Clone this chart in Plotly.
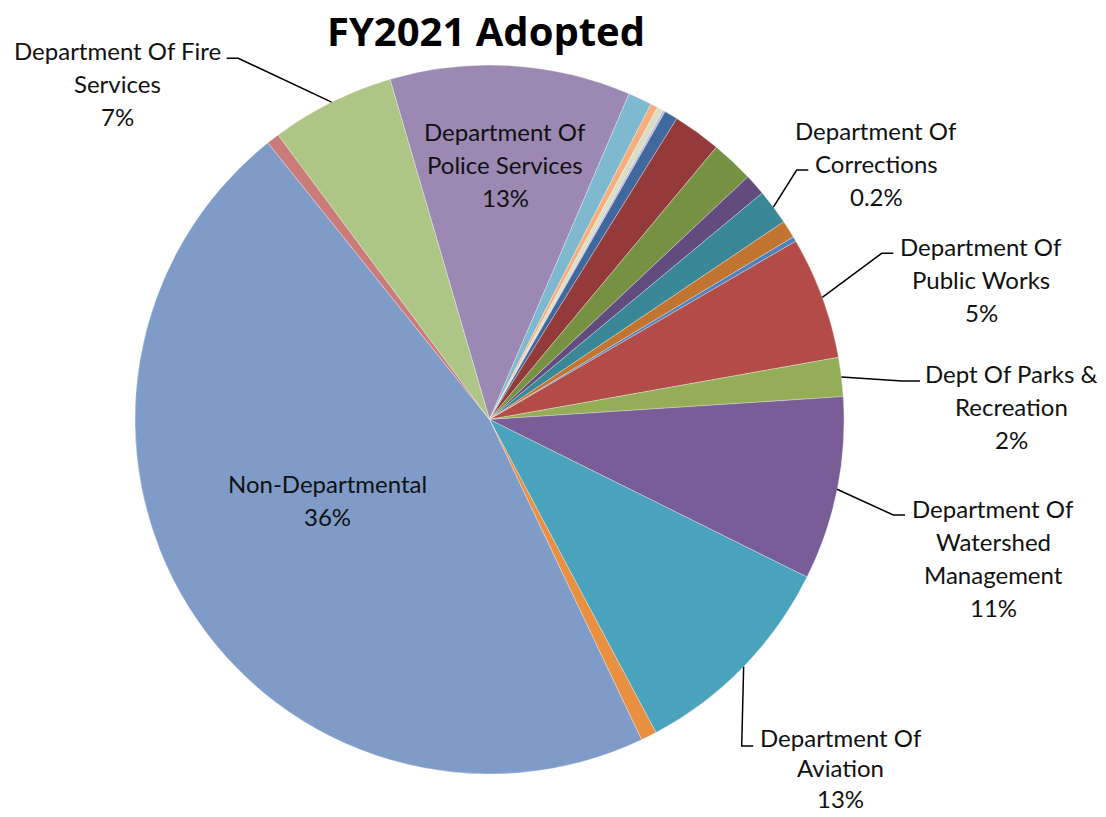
import math
import plotly.graph_objects as go

# ---- data (slice sizes, clockwise from Police) ----
departments = [
    "Department Of Police Services", "Other A", "Other B", "Other C", "Other D",
    "Other E", "Other F", "Other G", "Other H", "Department Of Corrections",
    "Other I", "Other J", "Department Of Public Works", "Dept Of Parks & Recreation",
    "Department Of Watershed Management", "Department Of Aviation", "Other K",
    "Non-Departmental", "Other L", "Department Of Fire Services",
]
values = [39.5, 3.9, 1.2, 1.0, 0.4, 2.2, 7.9, 7.0, 3.5, 5.8,
          2.9, 0.8, 20.1, 6.4, 30.1, 35.6, 2.6, 166.7, 2.1, 20.3]
colors = ["#9B89B3", "#7FB9D0", "#F9AD7C", "#D7DFC5", "#C5BBD6",
          "#3F689E", "#953A3A", "#779143", "#624C7E", "#3A8797",
          "#C17530", "#4F81BD", "#B34B48", "#94AE58", "#785D96",
          "#4AA3BC", "#E98F40", "#7F9BC8", "#C97C7A", "#ADC585"]
# label text as shown on the chart
label_lines = {
    "Department Of Police Services": ["Department Of", "Police Services", "13%"],
    "Non-Departmental": ["Non-Departmental", "36%"],
    "Department Of Fire Services": ["Department Of Fire", "Services", "7%"],
    "Department Of Corrections": ["Department Of", "Corrections", "0.2%"],
    "Department Of Public Works": ["Department Of", "Public Works", "5%"],
    "Dept Of Parks & Recreation": ["Dept Of Parks &", "Recreation", "2%"],
    "Department Of Watershed Management": ["Department Of", "Watershed", "Management", "11%"],
    "Department Of Aviation": ["Department Of", "Aviation", "13%"],
}

# ---- layout geometry (pixels) ----
W, H = 1106, 817
CX, CY, R = 489.5, 419.5, 354.5
ROT = -16.3
label_pos = {  # centre x, first-line centre y, line gap
    "Department Of Police Services": (505, 131.7, 33),
    "Non-Departmental": (327.2, 483.3, 33),
    "Department Of Fire Services": (117, 50, 33),
    "Department Of Corrections": (876, 130, 33),
    "Department Of Public Works": (981, 246.7, 33),
    "Dept Of Parks & Recreation": (1011.7, 373.3, 33),
    "Department Of Watershed Management": (993.3, 508.3, 33),
    "Department Of Aviation": (840.8, 737, 30.5),
}
leader_elbows = {
    "Department Of Fire Services": [(238.3, 58.3), (226.7, 58.3)],
    "Department Of Corrections": [(796.7, 170), (808.3, 170)],
    "Department Of Public Works": [(881.7, 253.3), (893.3, 253.3)],
    "Dept Of Parks & Recreation": [(902, 381), (920, 381)],
    "Department Of Watershed Management": [(893.3, 515), (905, 515)],
    "Department Of Aviation": [(741.7, 746), (753.3, 746)],
}
FONT = "Lato"
FS = 24

def px(x):
    return x / W

def py(y):
    return 1 - y / H

fig = go.Figure(go.Pie(
    labels=departments,
    values=values,
    sort=False,
    direction="clockwise",
    rotation=ROT,
    marker=dict(colors=colors, line=dict(color="rgba(255,255,255,0.5)", width=0.6)),
    textinfo="none",
    hoverinfo="label+percent",
    showlegend=False,
    domain=dict(x=[px(CX - R), px(CX + R)], y=[py(CY + R), py(CY - R)]),
))

# mid-angle anchors computed from the data
total = sum(values)
mid_angle = {}
acc = 0.0
for name, v in zip(departments, values):
    mid_angle[name] = ROT + (acc + v / 2) / total * 360
    acc += v

annotations = []
for name, lines in label_lines.items():
    x0, y0, gap = label_pos[name]
    for i, t in enumerate(lines):
        annotations.append(dict(
            x=px(x0), y=py(y0 + i * gap), xref="paper", yref="paper",
            text=t, showarrow=False, xanchor="center", yanchor="middle",
            font=dict(family=FONT, size=FS, color="#111111"),
        ))

shapes = []
for name, elbows in leader_elbows.items():
    a = math.radians(mid_angle[name])
    ax, ay = CX + R * math.sin(a), CY - R * math.cos(a)
    pts = [(ax, ay)] + elbows
    path = "M " + " L ".join(f"{px(x)},{py(y)}" for x, y in pts)
    shapes.append(dict(type="path", path=path, xref="paper", yref="paper",
                       line=dict(color="#000000", width=1.5)))

fig.update_layout(
    width=W, height=H,
    margin=dict(l=0, r=0, t=0, b=0),
    paper_bgcolor="white",
    title=dict(text="<b>FY2021 Adopted</b>", x=px(486), y=py(32),
               xanchor="center", yanchor="middle",
               font=dict(family="Open Sans", size=40, color="#000000")),
    annotations=annotations,
    shapes=shapes,
)

fig.write_html(
    "out.html",
    config={"displayModeBar": False},
    post_script="document.body.style.margin='0';document.body.style.overflow='hidden';",
)
